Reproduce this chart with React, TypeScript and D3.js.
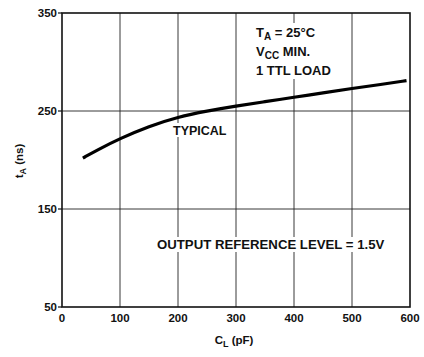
import React from "react";
import * as d3 from "d3";

const capacitance = [36, 60, 100, 150, 200, 250, 300, 350, 400, 450, 500, 550, 594];
const accessTime = [202, 210, 222, 234.5, 244, 250, 255, 259.5, 264, 268.5, 273, 277, 281];
const xTicks = [0, 100, 200, 300, 400, 500, 600];
const yTicks = [50, 150, 250, 350];
const yGrid = [150, 250];

export default function App() {
  const W = 424, H = 357;
  const m = { left: 62, right: 410, top: 13, bottom: 307 };
  const x = d3.scaleLinear().domain([0, 600]).range([m.left, m.right]);
  const y = d3.scaleLinear().domain([50, 350]).range([m.bottom, m.top]);
  const line = d3.line<number>().x((_, i) => x(capacitance[i])).y((d) => y(d)).curve(d3.curveBasis);
  const font = "'Liberation Sans', Arial, sans-serif";
  return (
    <svg width={W} height={H} style={{ position: "absolute", left: 0, top: 0, background: "#fff" }} fontFamily={font} fontWeight="bold">
      {xTicks.slice(1, -1).map((t) => (
        <line key={"gx" + t} x1={x(t)} x2={x(t)} y1={m.top} y2={m.bottom} stroke="#222" strokeWidth={0.9} />
      ))}
      {yGrid.map((t) => (
        <line key={"gy" + t} x1={m.left} x2={m.right} y1={y(t)} y2={y(t)} stroke="#222" strokeWidth={0.9} />
      ))}
      <rect x={m.left} y={m.top} width={m.right - m.left} height={m.bottom - m.top} fill="none" stroke="#111" strokeWidth={1.6} />
      {yTicks.map((t) => (
        <line key={"ty" + t} x1={m.left - 4} x2={m.left} y1={y(t)} y2={y(t)} stroke="#111" strokeWidth={1.2} />
      ))}
      {/* white boxes behind annotations */}
      <rect x={250} y={23} width={92} height={56} fill="#fff" />
      <rect x={170} y={123} width={60} height={14} fill="#fff" />
      <rect x={154} y={237} width={236} height={15} fill="#fff" />
      <path d={line(accessTime) || ""} fill="none" stroke="#000" strokeWidth={3.2} />
      {yTicks.map((t) => (
        <text key={"ly" + t} x={m.left - 5} y={y(t) + 4} textAnchor="end" fontSize={11.5} fill="#111">{t}</text>
      ))}
      {xTicks.map((t) => (
        <text key={"lx" + t} x={x(t)} y={m.bottom + 15} textAnchor="middle" fontSize={11.5} fill="#111">{t}</text>
      ))}
      <text x={234} y={344} textAnchor="middle" fontSize={11.5} fill="#111">
        C<tspan fontSize={9} dy={3}>L</tspan><tspan dy={-3}>{"  (pF)"}</tspan>
      </text>
      <text transform="translate(23,161) rotate(-90)" textAnchor="middle" fontSize={11.5} fill="#111">
        t<tspan fontSize={9} dy={3}>A</tspan><tspan dy={-3}>{" (ns)"}</tspan>
      </text>
      <text x={256} y={37} fontSize={13} fill="#111">
        T<tspan fontSize={10} dy={3}>A</tspan><tspan dy={-3}>{" = 25°C"}</tspan>
      </text>
      <text x={256} y={56} fontSize={13} fill="#111">
        V<tspan fontSize={10} dy={3}>CC</tspan><tspan dy={-3}>{"  MIN."}</tspan>
      </text>
      <text x={256} y={75} fontSize={13} fill="#111">1 TTL LOAD</text>
      <text x={173} y={135} fontSize={12.5} fill="#111">TYPICAL</text>
      <text x={157} y={249} fontSize={13.2} fill="#111">OUTPUT REFERENCE LEVEL = 1.5V</text>
    </svg>
  );
}
